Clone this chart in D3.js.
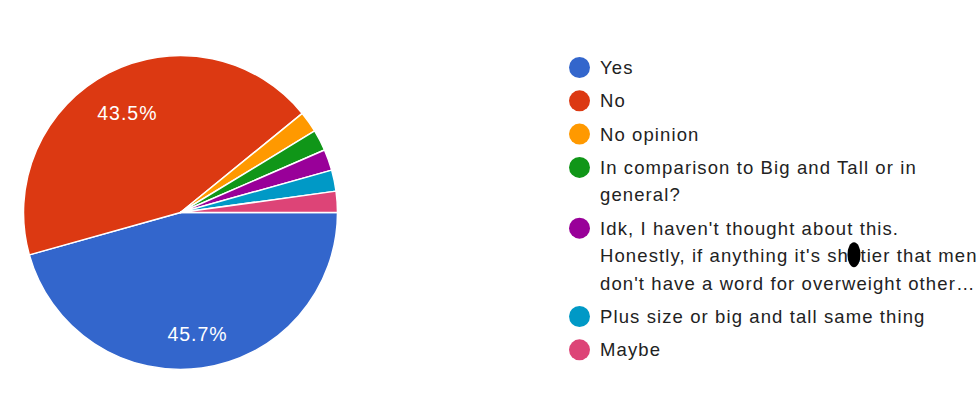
<!DOCTYPE html>
<html>
<head>
<meta charset="utf-8">
<script src="https://cdn.jsdelivr.net/npm/d3@7/dist/d3.min.js"></script>
<style>
  html, body { margin: 0; padding: 0; background: #ffffff; }
  svg { display: block; }
</style>
</head>
<body>
<svg id="chart" width="980" height="396"></svg>
<script>
// ---- data ----
const categories = [
  "Yes",
  "No",
  "No opinion",
  "In comparison to Big and Tall or in\ngeneral?",
  "Idk, I haven't thought about this.\nHonestly, if anything it's shittier that men\ndon't have a word for overweight other\u2026",
  "Plus size or big and tall same thing",
  "Maybe"
];
const responses = [21, 20, 1, 1, 1, 1, 1];
const colors = ["#3366cc", "#dc3912", "#ff9900", "#109618", "#990099", "#0099c6", "#dd4477"];

// ---- layout ----
const W = 980, H = 396;
const cx = 180.5, cy = 212.5, R = 157;
const svg = d3.select("#chart");
const FONT = "'Liberation Sans', Arial, sans-serif";

const total = d3.sum(responses);
const fmt = d3.format(".1%");
const pie = d3.pie().sort(null).value(d => d)
  .startAngle(Math.PI / 2).endAngle(Math.PI / 2 + 2 * Math.PI);
const arcs = pie(responses);
const arc = d3.arc().innerRadius(0).outerRadius(R);
const labelArc = d3.arc().innerRadius(R * 0.75).outerRadius(R * 0.75);

const g = svg.append("g").attr("transform", `translate(${cx},${cy})`);
g.selectAll("path.slice").data(arcs).enter().append("path")
  .attr("class", "slice")
  .attr("d", arc)
  .attr("fill", (d, i) => colors[i])
  .attr("stroke", "#ffffff")
  .attr("stroke-width", 1.5)
  .attr("stroke-linejoin", "round");

g.selectAll("text.pct").data(arcs.filter(d => d.value / total > 0.05)).enter().append("text")
  .attr("class", "pct")
  .attr("transform", d => { const c = labelArc.centroid(d); return `translate(${c[0] + 1},${c[1] + 5})`; })
  .attr("text-anchor", "middle")
  .attr("dominant-baseline", "central")
  .attr("font-family", FONT)
  .attr("font-size", "19.5px")
  .attr("letter-spacing", "1px")
  .attr("fill", "#ffffff")
  .text(d => fmt(d.value / total));

// ---- legend ----
const legX = 579.5, textX = 600, firstY = 67.5, itemStep = 33.3, lineH = 27.5;
const leg = svg.append("g");
let y = firstY;
categories.forEach((label, i) => {
  const lines = label.split("\n");
  leg.append("circle")
    .attr("cx", legX).attr("cy", y).attr("r", 10.5)
    .attr("fill", colors[i]);
  const t = leg.append("text")
    .attr("font-family", FONT)
    .attr("font-size", "18.5px")
    .attr("letter-spacing", "1.1px")
    .attr("fill", "#222222");
  lines.forEach((ln, j) => {
    t.append("tspan")
      .attr("x", textX)
      .attr("y", y + j * lineH)
      .attr("dominant-baseline", "central")
      .text(ln);
    const k = ln.indexOf("shittier");
    if (k >= 0) {
      // redaction blot drawn over part of the word, as in the reference
      const tmp = leg.append("text")
        .attr("font-family", FONT).attr("font-size", "18.5px").attr("letter-spacing", "1.1px")
        .text(ln.slice(0, k + 2));
      const w = tmp.node().getComputedTextLength();
      tmp.remove();
      leg.append("ellipse")
        .attr("cx", textX + w + 5).attr("cy", y + j * lineH - 1)
        .attr("rx", 6.5).attr("ry", 12.5)
        .attr("fill", "#000000");
    }
  });
  y += itemStep + (lines.length - 1) * lineH;
});
</script>
</body>
</html>
